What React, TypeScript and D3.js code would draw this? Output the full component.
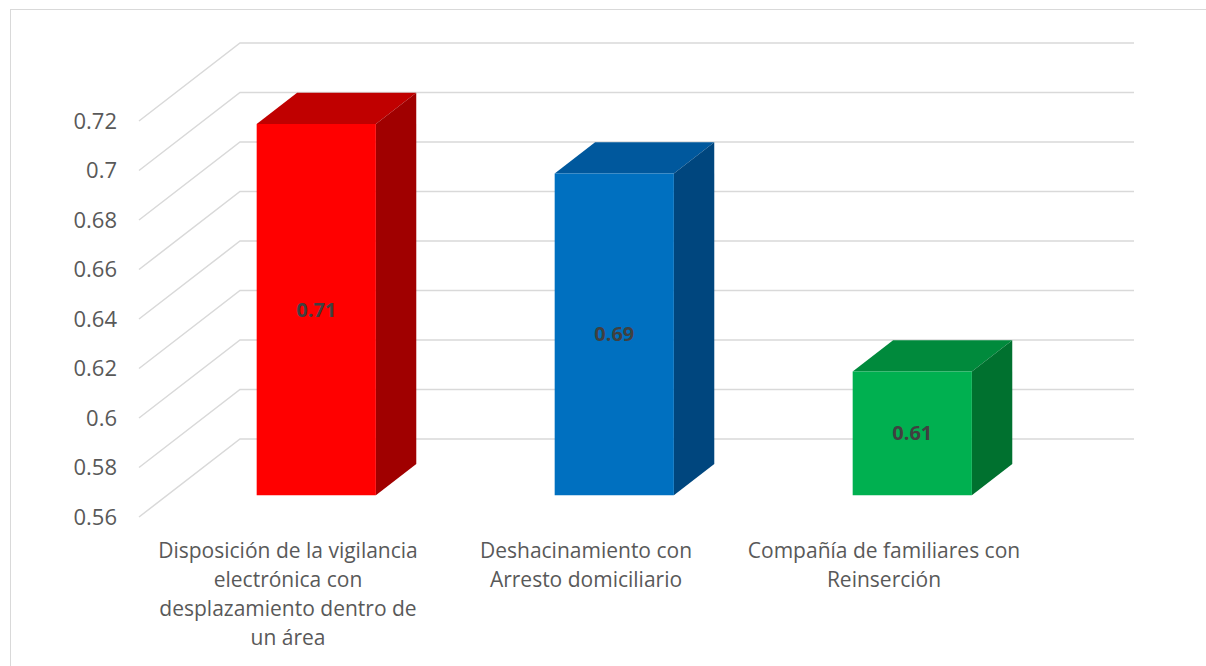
import React from "react";
import { scaleBand, scaleLinear } from "d3";

const categories = ["vigilancia", "deshacinamiento", "familiares"];
const values = [0.71, 0.69, 0.61];
const categoryLines = [
  ["Disposición de la vigilancia", "electrónica con", "desplazamiento dentro de", "un área"],
  ["Deshacinamiento con", "Arresto domiciliario"],
  ["Compañía de familiares con", "Reinserción"],
];
const tickValues = [0.56, 0.58, 0.6, 0.62, 0.64, 0.66, 0.68, 0.7, 0.72];
const tickLabels = ["0.56", "0.58", "0.6", "0.62", "0.64", "0.66", "0.68", "0.7", "0.72"];
const valueLabels = ["0.71", "0.69", "0.61"];

const barColors = [
  { front: "#ff0000", top: "#c00000", side: "#a00000" },
  { front: "#0070c0", top: "#00589d", side: "#00467e" },
  { front: "#00b050", top: "#008a3c", side: "#00712f" },
];

const W = 1206;
const H = 666;
const FONT = "'Open Sans', sans-serif";

export default function App() {
  const x = scaleBand<string>()
    .domain(categories)
    .range([139, 1033])
    .paddingInner(0.6)
    .paddingOuter(0.3);
  const y = scaleLinear().domain([0.56, 0.72]).range([517, 121]);
  // depth: 0 = front plane, 1 = back wall
  const dx = scaleLinear().domain([0, 1]).range([0, 101]);
  const dy = scaleLinear().domain([0, 1]).range([0, -78]);
  const zFront = 0.28;
  const zBack = 0.68;

  const P = (px: number, py: number, z: number) => `${px + dx(z)},${py + dy(z)}`;
  const floor = y(0.56);

  return (
    <svg
      width={W}
      height={H}
      style={{ position: "absolute", left: 0, top: 0, background: "#fff" }}
    >
      <rect x={10.5} y={9.5} width={1210} height={700} fill="#fff" stroke="#d9d9d9" strokeWidth={1} />

      {/* gridlines: diagonal side wall + back wall */}
      <g stroke="#d9d9d9" strokeWidth={1.5} fill="none">
        {tickValues.map((t) => (
          <polyline
            key={t}
            points={`${x.range()[0]},${y(t)} ${x.range()[0] + dx(1)},${y(t) + dy(1)} ${x.range()[1] + dx(1)},${y(t) + dy(1)}`}
          />
        ))}
      </g>

      {/* tick labels */}
      <g fontFamily={FONT} fontSize={22} fill="#595959" textAnchor="end">
        {tickValues.map((t, i) => (
          <text key={t} x={117} y={y(t)} dy="0.35em">
            {tickLabels[i]}
          </text>
        ))}
      </g>

      {/* bars */}
      {categories.map((c, i) => {
        const x0 = x(c) as number;
        const x1 = x0 + x.bandwidth();
        const yt = y(values[i]);
        const col = barColors[i];
        return (
          <g key={c}>
            <polygon
              fill={col.top}
              points={[P(x0, yt, zFront), P(x1, yt, zFront), P(x1, yt, zBack), P(x0, yt, zBack)].join(" ")}
            />
            <polygon
              fill={col.side}
              points={[P(x1, yt, zFront), P(x1, yt, zBack), P(x1, floor, zBack), P(x1, floor, zFront)].join(" ")}
            />
            <polygon
              fill={col.front}
              points={[P(x0, yt, zFront), P(x1, yt, zFront), P(x1, floor, zFront), P(x0, floor, zFront)].join(" ")}
            />
            <text
              x={(x0 + x1) / 2 + dx(zFront)}
              y={(yt + floor) / 2 + dy(zFront)}
              dy="0.35em"
              textAnchor="middle"
              fontFamily={FONT}
              fontSize={20}
              fontWeight="bold"
              fill="#404040"
            >
              {valueLabels[i]}
            </text>
          </g>
        );
      })}

      {/* category labels */}
      <g fontFamily={FONT} fontSize={21} fill="#595959" textAnchor="middle">
        {categories.map((c, i) => (
          <text key={c} x={(x(c) as number) + x.bandwidth() / 2} y={551}>
            {categoryLines[i].map((line, j) => (
              <tspan key={j} x={(x(c) as number) + x.bandwidth() / 2} y={551 + j * 29} dy="0.35em">
                {line}
              </tspan>
            ))}
          </text>
        ))}
      </g>
    </svg>
  );
}
